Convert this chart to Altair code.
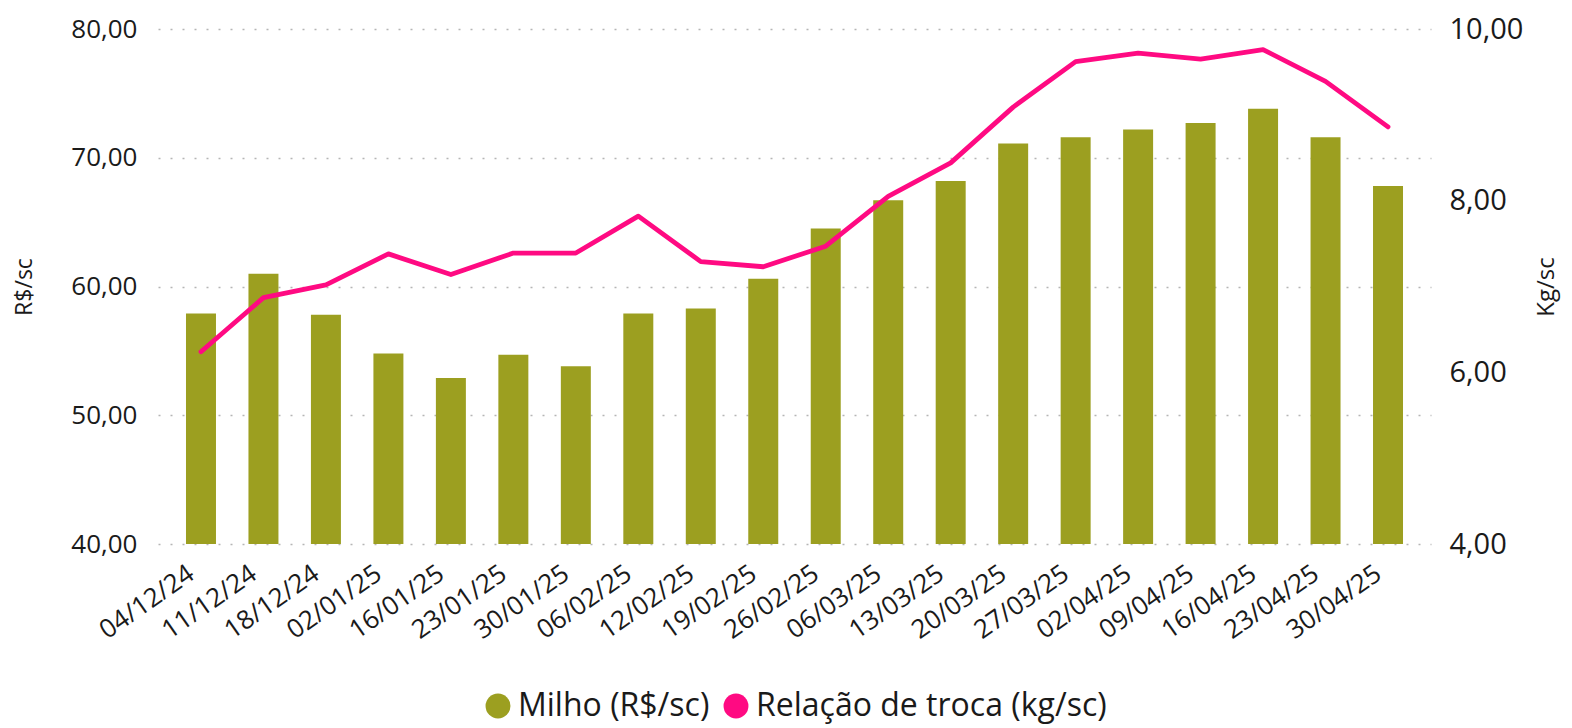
import altair as alt
import pandas as pd

# ---- data ----
dates = ["04/12/24", "11/12/24", "18/12/24", "02/01/25", "16/01/25", "23/01/25",
         "30/01/25", "06/02/25", "12/02/25", "19/02/25", "26/02/25", "06/03/25",
         "13/03/25", "20/03/25", "27/03/25", "02/04/25", "09/04/25", "16/04/25",
         "23/04/25", "30/04/25"]
milho = [57.9, 61.0, 57.8, 54.8, 52.9, 54.7, 53.8, 57.9, 58.3, 60.6,
         64.5, 66.7, 68.2, 71.1, 71.6, 72.2, 72.7, 73.8, 71.6, 67.8]
relacao = [6.24, 6.87, 7.02, 7.38, 7.14, 7.39, 7.39, 7.82, 7.29, 7.23,
           7.47, 8.05, 8.44, 9.09, 9.62, 9.72, 9.65, 9.76, 9.39, 8.86]
series = ["Milho (R$/sc)", "Relação de troca (kg/sc)"]
colors = ["#9C9F20", "#FF0A82"]
left_ticks = [40, 50, 60, 70, 80]
right_ticks = [4, 6, 8, 10]

df = pd.DataFrame({"data": dates, "milho": milho, "relacao": relacao})
leg = pd.DataFrame({"serie": series, "data": [dates[0], dates[0]]})

FONT = "Open Sans"
TXT = "#1a1a1a"
fmt = "replace(format(datum.value, '.2f'), '.', ',')"

xenc = alt.X(
    "data:N", sort=dates, title=None,
    scale=alt.Scale(paddingInner=0.52, paddingOuter=0.448),
    axis=alt.Axis(labelAngle=-35, labelAlign="right", labelBaseline="top",
                  ticks=False, domain=False, grid=False, labelFontSize=26,
                  labelPadding=16, labelOffset=-17, labelColor=TXT,
                  labelFont=FONT, labelOverlap=False, labelLimit=400),
)

bar = alt.Chart(df).mark_bar(color=colors[0], clip=True).encode(
    x=xenc,
    y=alt.Y("milho:Q", scale=alt.Scale(domain=[40, 80], nice=False, zero=False),
            axis=alt.Axis(values=left_ticks, labelExpr=fmt, title="R$/sc",
                          grid=True, gridDash=[2, 10], gridColor="#b5b5b5",
                          gridWidth=1.5, domain=False, ticks=False,
                          labelPadding=21, titlePadding=34, labelFontSize=26,
                          titleFontSize=23, titleFontWeight="normal",
                          labelColor=TXT, titleColor=TXT, labelFont=FONT,
                          titleFont=FONT)),
)

line = alt.Chart(df).mark_line(color=colors[1], strokeWidth=4.8,
                               strokeJoin="round", strokeCap="round").encode(
    x=xenc,
    y=alt.Y("relacao:Q", scale=alt.Scale(domain=[4, 10], nice=False, zero=False),
            axis=alt.Axis(orient="right", values=right_ticks, labelExpr=fmt,
                          title="Kg/sc", titleAngle=270, titleBaseline="top",
                          grid=False, domain=False, ticks=False,
                          labelPadding=18, titlePadding=12, labelFontSize=29,
                          titleFontSize=24, titleFontWeight="normal",
                          labelColor=TXT, titleColor=TXT, labelFont=FONT,
                          titleFont=FONT)),
)

legend_layer = alt.Chart(leg).mark_circle(clip=True, opacity=1).encode(
    x=alt.X("data:N", sort=dates),
    y=alt.YDatum(1000, scale=alt.Scale(domain=[40, 80]), axis=None),
    color=alt.Color("serie:N", scale=alt.Scale(domain=series, range=colors),
                    legend=alt.Legend(orient="none", legendX=324, legendY=661,
                                      direction="horizontal", title=None,
                                      symbolType="circle", symbolSize=620,
                                      labelFontSize=32, labelFont=FONT,
                                      labelColor=TXT, labelOffset=4,
                                      columnPadding=10, padding=0,
                                      labelLimit=600, symbolStrokeWidth=0)),
)

chart = alt.layer(bar, line, legend_layer).resolve_scale(
    y="independent"
).properties(
    width=1273, height=515,
    padding={"left": 5, "top": 7, "right": 4, "bottom": 2},
).configure(background="white").configure_view(stroke=None)

chart.save("out.html", embed_options={"renderer": "svg", "actions": False})
